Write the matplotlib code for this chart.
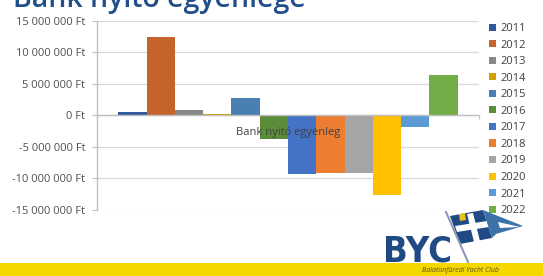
import matplotlib.pyplot as plt
from matplotlib.patches import Rectangle, Polygon
from matplotlib.ticker import FuncFormatter, MultipleLocator
from matplotlib.lines import Line2D

plt.rcParams['font.family'] = ['Open Sans', 'DejaVu Sans']

title = "Bank nyitó egyenlege"
category = "Bank nyitó egyenleg"
years = ["2011", "2012", "2013", "2014", "2015", "2016",
         "2017", "2018", "2019", "2020", "2021", "2022"]
balances = [430000, 12350000, 740000, 150000, 2650000, -3800000,
            -9370000, -9200000, -9200000, -12700000, -1900000, 6300000]
colors = ["#30589a", "#c4642a", "#878787", "#d29e00", "#4a80b1", "#5a8c3a",
          "#4472c4", "#ed7d31", "#a5a5a5", "#ffc000", "#5b9bd5", "#70ad47"]

fig = plt.figure(figsize=(5.43, 2.76), dpi=100)
ax = fig.add_axes([97 / 543, 1 - 209.7 / 276, 382 / 543, 189.2 / 276])

group = 0.889
w = group / len(years)
start = -group / 2
for i, (y, v, c) in enumerate(zip(years, balances, colors)):
    ax.bar(start + w * (i + 0.5), v, width=w, color=c, label=y, zorder=2)

ax.set_xlim(-0.5, 0.5)
ax.set_ylim(-15000000, 15000000)
ax.yaxis.set_major_locator(MultipleLocator(5000000))
ax.yaxis.set_major_formatter(FuncFormatter(
    lambda v, p: f"{int(round(v)):,}".replace(",", " ") + " Ft"))
ax.grid(axis='y', color='#d9d9d9', linewidth=0.9, zorder=0)
ax.set_axisbelow(True)

for s in ['top', 'right']:
    ax.spines[s].set_visible(False)
ax.spines['bottom'].set_position(('data', 0))
ax.spines['bottom'].set_color('#bfbfbf')
ax.spines['bottom'].set_linewidth(1.0)
ax.spines['left'].set_color('#bfbfbf')
ax.spines['left'].set_linewidth(1.0)
ax.set_xticks([-0.5, 0.5])
ax.set_xticklabels([])
ax.tick_params(axis='x', direction='out', length=3, color='#bfbfbf')
ax.tick_params(axis='y', direction='out', length=3.5, color='#bfbfbf',
               labelsize=8, labelcolor='#505050', pad=5)

ax.annotate(category, xy=(0, 0), xytext=(0, -12.3), textcoords='offset points',
            ha='center', va='center', fontsize=8, color='#404040', zorder=5)

ax.legend(loc='upper left', bbox_to_anchor=(489 / 543, 1 - 23 / 276),
          bbox_transform=fig.transFigure, frameon=False, fontsize=8,
          handlelength=0.6, handleheight=0.6, handletextpad=0.4,
          labelspacing=0.5, borderpad=0, borderaxespad=0,
          labelcolor='#404040')

# title (cropped at the top edge, as in the slide)
fig.text(13 / 543, 1 - 7.3 / 276, title, fontsize=20.5, fontweight='semibold',
         color='#1f4e8a', ha='left', va='baseline')

# logo area
fig.patches.append(Rectangle((0, 0), 1, 13.3 / 276, transform=fig.transFigure,
                             facecolor='#f5d800', edgecolor='none'))
fig.text(417 / 543, 1 - 262 / 276, "BYC", fontsize=26, fontweight='bold',
         fontstretch='condensed', color='#1f4a84', ha='center', va='baseline',
         family=['DejaVu Sans'])
fig.text(460 / 543, 5 / 276, "Balatonfüredi Yacht Club", fontsize=5,
         style='italic', color='#5a5020', ha='center', va='center')

def fp(x, y):
    return (x / 543, 1 - y / 276)

fig.lines.append(Line2D([fp(446, 212)[0], fp(468, 262)[0]],
                        [fp(446, 212)[1], fp(468, 262)[1]],
                        transform=fig.transFigure, color='#8a9ab8', lw=1.5))
fig.patches.append(Polygon([fp(450, 216), fp(483, 210), fp(492, 238), fp(460, 244)],
                           closed=True, transform=fig.transFigure,
                           facecolor='#1f4a84', edgecolor='none'))
fig.patches.append(Polygon([fp(455, 226), fp(487, 221), fp(489, 227), fp(457, 232)],
                           closed=True, transform=fig.transFigure,
                           facecolor='white', edgecolor='none'))
fig.patches.append(Polygon([fp(467, 214), fp(473, 213), fp(480, 241), fp(474, 242)],
                           closed=True, transform=fig.transFigure,
                           facecolor='white', edgecolor='none'))
fig.patches.append(Polygon([fp(483, 210), fp(523, 226), fp(496, 234), fp(492, 238)],
                           closed=True, transform=fig.transFigure,
                           facecolor='#3c72a8', edgecolor='none'))
fig.patches.append(Polygon([fp(498, 222), fp(520, 227), fp(500, 228)],
                           closed=True, transform=fig.transFigure,
                           facecolor='white', edgecolor='none'))
fig.patches.append(Polygon([fp(459, 214), fp(465, 213), fp(466, 220), fp(460, 221)],
                           closed=True, transform=fig.transFigure,
                           facecolor='#e8c020', edgecolor='none'))

fig.savefig("out.png", dpi=100)
